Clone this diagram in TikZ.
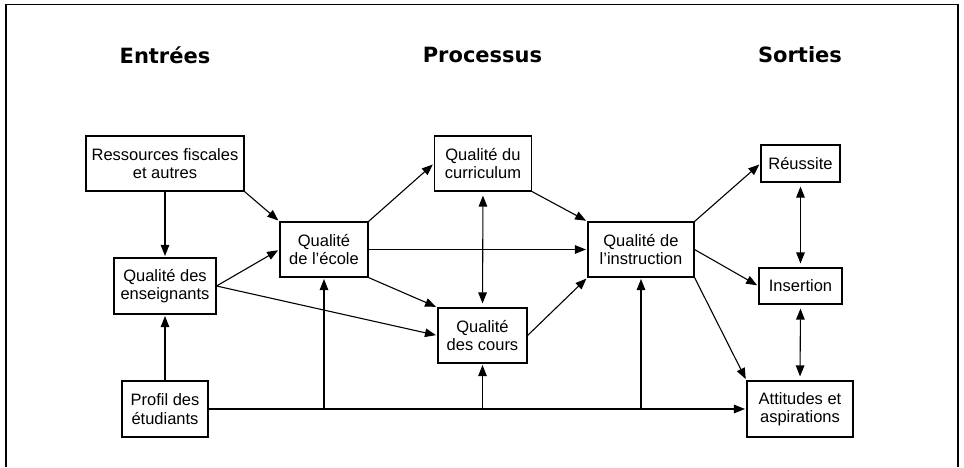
\documentclass[tikz,border=0pt]{standalone}
\usepackage{fontspec}
\setmainfont{Liberation Sans}
\newfontfamily\headfont{DejaVu Sans}
\usetikzlibrary{arrows.meta}
\tikzset{
  box/.style={draw, line width=1.1pt, inner sep=0pt, align=center,
    font=\fontsize{16.5}{18.5}\selectfont},
  head/.style={font=\headfont\bfseries\fontsize{21}{24}\selectfont, inner sep=0pt},
  tip/.tip={Triangle[length=11pt,width=8.5pt]},
  conn/.style={line width=1.1pt, -tip, shorten >=1.5pt},
  dconn/.style={line width=1.1pt, tip-tip, shorten >=4pt, shorten <=4pt},
}
\begin{document}
\begin{tikzpicture}[x=1pt,y=-1pt]
\useasboundingbox (0,0) rectangle (964,467);
\draw[line width=1.4pt] (6,467) -- (6,4.5) -- (958,4.5) -- (958,467);

\node[head] (hE) at (165,55) {Entrées};
\node[head] (hP) at (482.5,55) {Processus};
\node[head] (hS) at (800,55) {Sorties};

\node[box, minimum width=158pt, minimum height=55pt] (res) at (165,163.5) {Ressources fiscales\\et autres};
\node[box, minimum width=102pt, minimum height=56pt] (ens) at (165,286) {Qualité des\\enseignants};
\node[box, minimum width=86pt, minimum height=56pt] (pro) at (165,409) {Profil des\\étudiants};
\node[box, minimum width=88pt, minimum height=55pt] (eco) at (324,249.5) {Qualité\\de l’école};
\node[box, minimum width=97pt, minimum height=55pt] (cur) at (483,163.5) {Qualité du\\curriculum};
\node[box, minimum width=89pt, minimum height=55pt] (cou) at (482.5,335.5) {Qualité\\des cours};
\node[box, minimum width=106pt, minimum height=55pt] (ins) at (641,249.5) {Qualité de\\l’instruction};
\node[box, minimum width=79pt, minimum height=37pt] (reu) at (800.5,163.5) {Réussite};
\node[box, minimum width=83pt, minimum height=36pt] (inse) at (800.5,286) {Insertion};
\node[box, minimum width=106pt, minimum height=56pt] (att) at (800,409) {Attitudes et\\aspirations};

\draw[conn] (res.south) -- (ens.north);
\draw[conn] (pro.north) -- (ens.south);
\draw[conn] (res.south east) -- (eco.north west);
\draw[conn] (ens.east) -- (eco.west);
\draw[conn] (ens.east) -- (cou.west);
\draw[conn] (eco.north east) -- (cur.west);
\draw[conn] (eco.east) -- (ins.west);
\draw[conn] (eco.south east) -- (cou.north west);
\draw[dconn] (cur.south) -- (cou.north);
\draw[conn] (cur.south east) -- (ins.north west);
\draw[conn] (cou.east) -- (ins.south west);
\draw[conn] (ins.north east) -- (reu.west);
\draw[conn] (ins.east) -- (inse.west);
\draw[conn] (ins.south east) -- (att.north west);
\draw[dconn] (reu.south) -- (inse.north);
\draw[dconn] (inse.south) -- (att.north);

\draw[conn] (pro.east) -- (att.west);
\coordinate (b1) at (eco.south |- pro.east);
\coordinate (b2) at (cou.south |- pro.east);
\coordinate (b3) at (ins.south |- pro.east);
\draw[conn] (b1) -- (eco.south);
\draw[conn] (b2) -- (cou.south);
\draw[conn] (b3) -- (ins.south);
\end{tikzpicture}
\end{document}
